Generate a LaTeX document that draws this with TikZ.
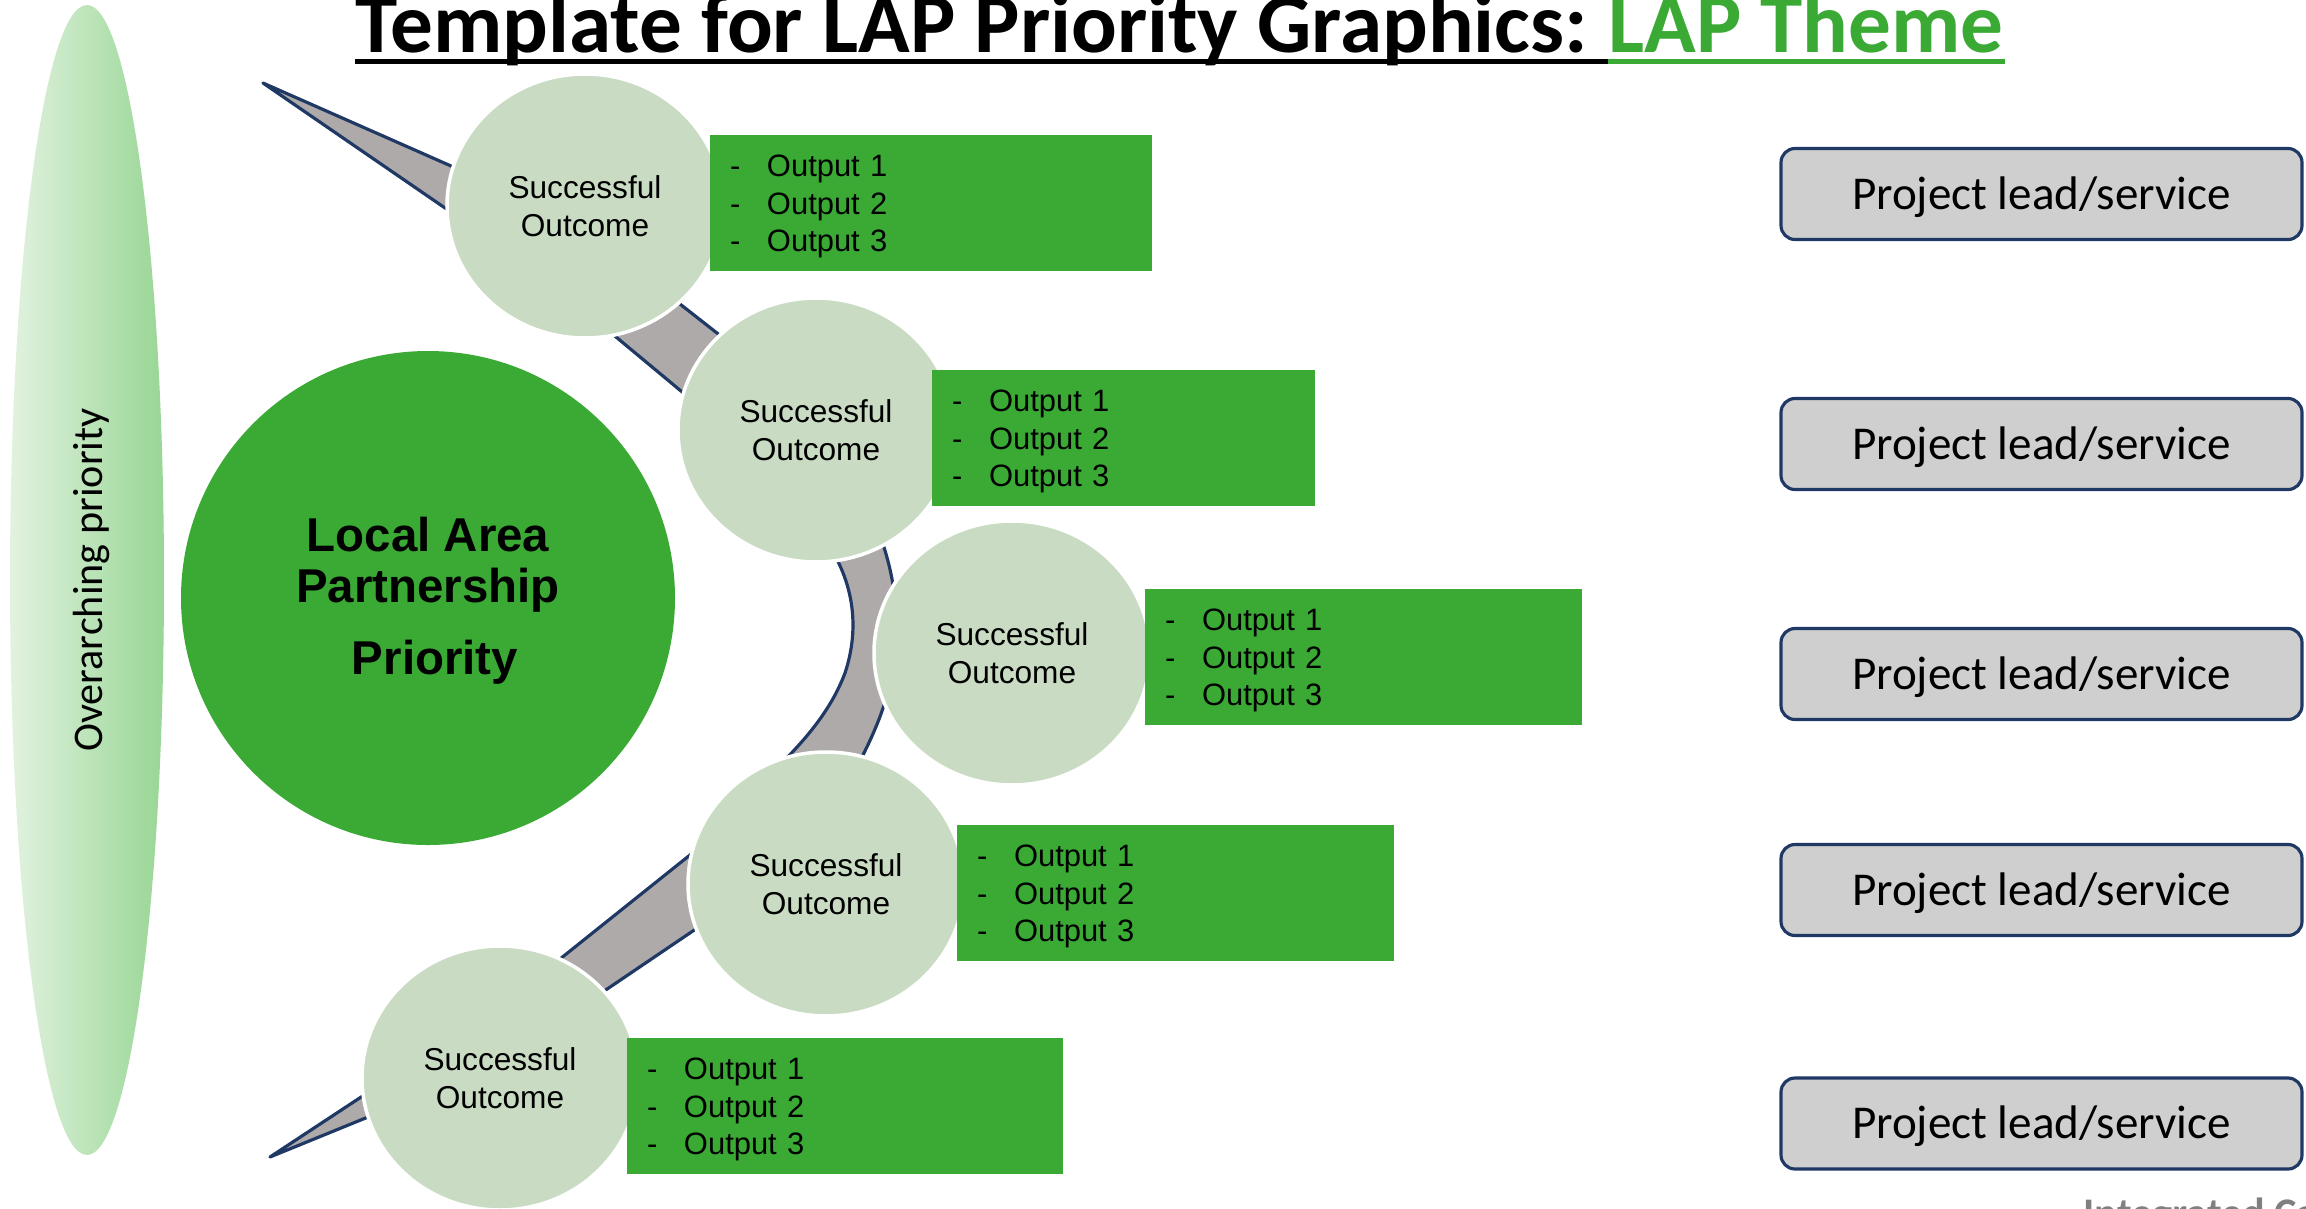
\documentclass[tikz,border=0pt]{standalone}
\usepackage{fontspec}
\setmainfont{Liberation Sans}
\newfontfamily\calibri{Carlito}
\usetikzlibrary{shapes.geometric,backgrounds}

\definecolor{lapgreen}{RGB}{58,170,53}
\definecolor{outcomegreen}{RGB}{201,220,195}
\definecolor{bandgray}{RGB}{174,170,170}
\definecolor{navyedge}{RGB}{31,56,100}
\definecolor{leadgray}{RGB}{207,207,207}
\definecolor{ovlight}{RGB}{226,242,224}
\definecolor{ovdark}{RGB}{152,214,148}
\definecolor{footgray}{RGB}{128,128,128}

\newcommand{\outlist}{\rule{0pt}{8.2pt}\makebox[0.37cm][l]{-}Output 1\\\makebox[0.37cm][l]{-}Output 2\\\makebox[0.37cm][l]{-}Output 3}

\begin{document}
\begin{tikzpicture}
  [outcome/.style={ellipse,fill=outcomegreen,draw=white,line width=1pt,
     minimum width=2.76cm,minimum height=2.64cm,inner sep=0pt,align=center,
     font=\fontsize{9}{10.9}\selectfont},
   outbox/.style={rectangle,fill=lapgreen,minimum height=1.36cm,inner xsep=0.2cm,
     align=left,font=\fontsize{8.8}{10.7}\selectfont},
   lead/.style={rectangle,rounded corners=0.14cm,fill=leadgray,draw=navyedge,
     line width=0.9pt,minimum width=5.21cm,minimum height=0.91cm,text depth=0.5pt,
     font=\calibri\fontsize{13.4}{16}\selectfont},
   band/.style={fill=bandgray,draw=navyedge,line width=0.9pt,line join=round}]

  \useasboundingbox (0,0) rectangle (23.06,12.08);

  % overarching priority and the LAP priority
  \node[ellipse,minimum width=1.54cm,minimum height=11.5cm,left color=ovlight,right color=ovdark,
    font=\calibri\fontsize{12}{14}\selectfont] (over) at (0.87,6.28) {\hspace{0.09cm}\rotatebox{90}{Overarching priority}};
  \node[circle,fill=lapgreen,minimum size=4.94cm,inner sep=0pt,align=center,
    font=\bfseries\fontsize{13.5}{14.5}\selectfont] (lap) at (4.28,6.10)
    {\rule{0pt}{11.5pt}Local Area\\Partnership\\[5.9pt]\hspace*{0.14cm}Priority};

  % outcomes
  \node[outcome] (o1) at (5.85,10.02) {Successful\\Outcome};
  \node[outcome] (o2) at (8.16,7.78)  {Successful\\Outcome};
  \node[outcome] (o3) at (10.12,5.55) {Successful\\Outcome};
  \node[outcome] (o4) at (8.26,3.24)  {Successful\\Outcome};
  \node[outcome] (o5) at (5.00,1.30)  {Successful\\Outcome};

  % outputs
  \node[outbox,text width=4.02cm] (b1) at (9.31,10.05)  {\outlist};
  \node[outbox,text width=3.43cm] (b2) at (11.235,7.70) {\outlist};
  \node[outbox,text width=3.97cm] (b3) at (13.635,5.51) {\outlist};
  \node[outbox,text width=3.97cm] (b4) at (11.755,3.15) {\outlist};
  \node[outbox,text width=3.96cm] (b5) at (8.45,1.02)   {\outlist};

  \foreach \i/\y in {1/10.14,2/7.64,3/5.34,4/3.18,5/0.845}
    \node[lead] (p\i) at (20.415,\y) {Project lead/service};

  % title
  \node[anchor=base west,inner sep=0pt,font=\calibri\bfseries\fontsize{24.25}{28}\selectfont]
    (t1) at (3.55,11.56) {Template for LAP Priority Graphics:};
  \node[anchor=base west,inner sep=0pt,text=lapgreen,font=\calibri\bfseries\fontsize{24.25}{28}\selectfont]
    (t2) at ([xshift=0.19cm]t1.base east) {LAP Theme};
  \draw[line width=1.4pt] ([yshift=-0.095cm]t1.base west) -- ([yshift=-0.095cm]t2.base west);
  \draw[lapgreen,line width=1.4pt] ([yshift=-0.095cm]t2.base west) -- ([yshift=-0.095cm]t2.base east);

  \node[anchor=base west,inner sep=0pt,text=footgray,font=\calibri\bfseries\fontsize{12}{14}\selectfont]
    (foot) at (20.83,-0.19) {Integrated Care};

  % the ribbon through the outcomes
  \begin{scope}[on background layer]
    \coordinate (tipa) at (2.63,11.25);
    \coordinate (tipe) at (2.70,0.51);
    \path[band] (tipa) -- ([shift={(-1.00,0.25)}]o1.center) -- ([shift={(-1.05,-0.26)}]o1.center) -- cycle;
    \path[band] ([shift={(0.13,-1.16)}]o1.center) -- ([shift={(-1.17,0.24)}]o2.center)
      -- ([shift={(-0.71,0.75)}]o2.center) -- ([shift={(0.72,-0.80)}]o1.center) -- cycle;
    \path[band] ([shift={(0.04,-1.03)}]o2.center) .. controls (8.55,6.30) and (8.60,5.80) .. (8.45,5.35)
      .. controls (8.30,4.95) and (8.00,4.60) .. ([shift={(-0.71,0.96)}]o4.center)
      -- ([shift={(0.19,0.96)}]o4.center) .. controls (8.80,4.80) and (8.92,5.20) .. (8.95,5.55)
      .. controls (9.00,6.00) and (8.92,6.50) .. ([shift={(0.55,-0.85)}]o2.center) -- cycle;
    \path[band] ([shift={(-1.11,0.49)}]o4.center) -- ([shift={(0.40,1.03)}]o5.center)
      -- ([shift={(0.85,0.74)}]o5.center) -- ([shift={(-1.11,-0.32)}]o4.center) -- cycle;
    \path[band] (tipe) -- ([shift={(-1.10,0.00)}]o5.center) -- ([shift={(-1.05,-0.28)}]o5.center) -- cycle;
  \end{scope}
\end{tikzpicture}
\end{document}
